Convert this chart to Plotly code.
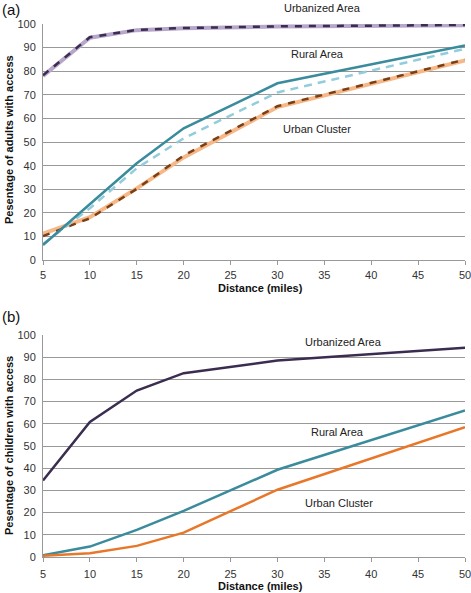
import plotly.graph_objects as go

distance = [5, 10, 15, 20, 30, 50]

# Panel (a): adults
adult_urbanized = [78.3, 94.4, 97.5, 98.3, 99.0, 99.6]
adult_urbanized_alt = [78.0, 94.2, 97.4, 98.2, 98.9, 99.5]
adult_rural = [6.4, 23.8, 41.0, 55.8, 74.9, 90.9]
adult_rural_alt = [6.8, 22.0, 38.9, 51.6, 71.0, 89.5]
adult_cluster = [10.2, 17.7, 30.2, 44.3, 65.2, 84.9]
adult_cluster_alt = [11.2, 18.2, 30.4, 43.5, 64.8, 84.6]

# Panel (b): children
child_urbanized = [34.5, 60.8, 75.0, 82.8, 88.5, 94.3]
child_rural = [0.8, 4.7, 12.2, 20.8, 39.3, 66.0]
child_cluster = [0.6, 1.7, 5.0, 11.0, 30.3, 58.5]

y_ticks = list(range(0, 101, 10))
x_ticks = list(range(5, 51, 5))

PURPLE = "#3b2d4f"
LIGHT_PURPLE = "#b7a8cb"
TEAL = "#3a8b9c"
LIGHT_BLUE = "#93cddc"
BROWN = "#7b3f18"
LIGHT_ORANGE = "#f6b888"
ORANGE = "#e8772a"

fig = go.Figure()

def add(x, y, color, width, dash, xa, ya):
    fig.add_trace(go.Scatter(x=x, y=y, mode="lines",
                             line=dict(color=color, width=width, dash=dash),
                             xaxis=xa, yaxis=ya, showlegend=False, hoverinfo="skip"))

# (a)
add(distance, adult_urbanized_alt, LIGHT_PURPLE, 4, "solid", "x", "y")
add(distance, adult_urbanized, PURPLE, 2.5, "7px,7px", "x", "y")
add(distance, adult_cluster_alt, LIGHT_ORANGE, 4, "solid", "x", "y")
add(distance, adult_cluster, BROWN, 2.5, "7px,7px", "x", "y")
add(distance, adult_rural_alt, LIGHT_BLUE, 2.5, "8px,6px", "x", "y")
add(distance, adult_rural, TEAL, 2.5, "solid", "x", "y")

# (b)
add(distance, child_urbanized, PURPLE, 2.5, "solid", "x2", "y2")
add(distance, child_rural, TEAL, 2.5, "solid", "x2", "y2")
add(distance, child_cluster, ORANGE, 2.5, "solid", "x2", "y2")

FONT = "Liberation Sans, Arial, Helvetica, sans-serif"
tickfont = dict(family=FONT, size=11, color="#333333")
titlefont = dict(family=FONT, size=11, color="#111111")

def xaxis(anchor, standoff):
    return dict(anchor=anchor, range=[5, 50], tickvals=x_ticks, tickfont=tickfont,
                showgrid=False, zeroline=False, showline=True, linecolor="#999999",
                linewidth=1, ticks="outside", ticklen=4, tickcolor="#999999",
                ticklabelstandoff=standoff, ticklabeloverflow="allow", automargin=False)

def yaxis(anchor, domain):
    return dict(anchor=anchor, domain=domain, range=[0, 100], tickvals=y_ticks,
                tickfont=tickfont, showgrid=True, gridcolor="#999999", gridwidth=1,
                zeroline=False, showline=True, linecolor="#999999", linewidth=1,
                ticks="", ticklabelstandoff=4, automargin=False)

fig.update_layout(
    width=471, height=593,
    margin=dict(l=43, r=6, t=24, b=36),
    paper_bgcolor="white", plot_bgcolor="white",
    xaxis=xaxis("y", 1),
    yaxis=yaxis("x", [0.557, 1.0]),
    xaxis2=xaxis("y2", 3),
    yaxis2=yaxis("x2", [0.0, 0.4165]),
)

W, H, L, B = 422.0, 533.0, 43.0, 557.0

def px(xp):
    return (xp - L) / W

def py(yp):
    return (B - yp) / H

afont = dict(family=FONT, size=11, color="#222222")
annots = [
    (322, 8, "Urbanized Area"),
    (317, 54, "Rural Area"),
    (317, 129, "Urban Cluster"),
    (343, 342, "Urbanized Area"),
    (337, 432, "Rural Area"),
    (339, 503, "Urban Cluster"),
]
for xp, yp, t in annots:
    fig.add_annotation(x=px(xp), y=py(yp), xref="paper", yref="paper", text=t,
                       showarrow=False, font=afont, xanchor="center", yanchor="middle")

# axis titles
for xp, yp in [(260, 288), (260, 586)]:
    fig.add_annotation(x=px(xp), y=py(yp), xref="paper", yref="paper",
                       text="<b>Distance (miles)</b>", showarrow=False, font=titlefont,
                       xanchor="center", yanchor="middle")
for yp, t in [(140, "Pesentage of adults with access"), (446, "Pesentage of children with access")]:
    fig.add_annotation(x=px(9), y=py(yp), xref="paper", yref="paper",
                       text="<b>" + t + "</b>", showarrow=False, font=titlefont,
                       textangle=-90, xanchor="center", yanchor="middle")

# panel labels
for yp, t in [(9, "(a)"), (316, "(b)")]:
    fig.add_annotation(x=px(0), y=py(yp), xref="paper", yref="paper", text=t,
                       showarrow=False, font=dict(family=FONT, size=15, color="#111111"),
                       xanchor="left", yanchor="middle")

fig.write_html("out.html", config={"displayModeBar": False},
               post_script="document.body.style.margin='0';")
